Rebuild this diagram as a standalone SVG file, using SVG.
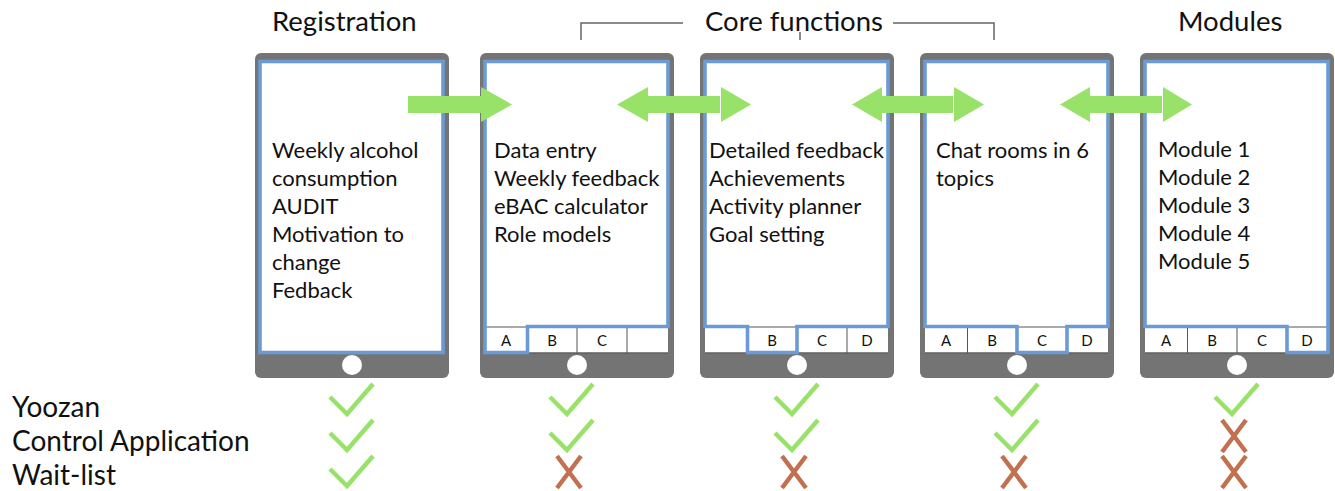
<svg xmlns="http://www.w3.org/2000/svg" width="1335" height="491" viewBox="0 0 1335 491">
<style>
.body{fill:#747474}
.screen{fill:#ffffff}
.frame{fill:none;stroke:#6b9bd6;stroke-width:3.6;stroke-linejoin:miter}
.tabline{fill:none;stroke:#555;stroke-width:1}
.btn{fill:#ffffff}
.t{font-family:Lato,"Liberation Sans",sans-serif;fill:#111}
.body-text{font-size:22px}
.head{font-size:27.5px}
.row{font-size:28px}
.tab{font-size:15px;text-anchor:middle}
.arrow{fill:#98e26a}
.check{fill:none;stroke:#98e26a;stroke-width:4.5;stroke-linecap:butt;stroke-linejoin:miter}
.cross{fill:none;stroke:#c17150;stroke-width:4.5}
.bracket{fill:none;stroke:#666;stroke-width:1.5}
</style>
<defs>
<g id="check"><path class="check" d="M-22,-3 L-5,14 L21,-16"/></g>
<g id="cross"><path class="cross" d="M-12,-16 L12,16 M12,-16 L-12,16"/></g>
</defs>

<!-- headers -->
<g id="headers">
<text class="t head" x="272" y="31">Registration</text>
<text class="t head" x="705" y="31">Core functions</text>
<text class="t head" x="1178" y="31">Modules</text>
<path class="bracket" d="M581,40 V23 H683 M893,23 H994 V40 M800,32 V40"/>
</g>

<!-- phone 1 -->
<g id="phone-registration">
<rect class="body" x="255" y="53" width="194" height="325" rx="6"/>
<rect class="screen" x="260" y="61.5" width="183" height="291"/>
<rect class="frame" x="260" y="61.5" width="183" height="291"/>
<circle class="btn" cx="352" cy="365" r="10"/>
<text class="t body-text" x="272" y="158">Weekly alcohol</text>
<text class="t body-text" x="272" y="186">consumption</text>
<text class="t body-text" x="272" y="214">AUDIT</text>
<text class="t body-text" x="272" y="242">Motivation to</text>
<text class="t body-text" x="272" y="270">change</text>
<text class="t body-text" x="272" y="298">Fedback</text>
</g>

<!-- phone 2 -->
<g id="phone-core1">
<rect class="body" x="480" y="53" width="194" height="325" rx="6"/>
<rect class="screen" x="485" y="61.5" width="183" height="291"/>
<path class="tabline" d="M485,327 H668 M485,353 H668 M527.5,327 V353 M577,327 V353 M627,327 V353"/>
<path class="frame" d="M485,61.5 H668 V326.5 H527.5 V352.5 H485 Z"/>
<circle class="btn" cx="577" cy="365" r="10"/>
<text class="t tab" x="506" y="346">A</text>
<text class="t tab" x="552" y="346">B</text>
<text class="t tab" x="602" y="346">C</text>
<text class="t body-text" x="494" y="158">Data entry</text>
<text class="t body-text" x="494" y="186">Weekly feedback</text>
<text class="t body-text" x="494" y="214">eBAC calculator</text>
<text class="t body-text" x="494" y="242">Role models</text>
</g>

<!-- phone 3 -->
<g id="phone-core2">
<rect class="body" x="700" y="53" width="194" height="325" rx="6"/>
<rect class="screen" x="705" y="61.5" width="183" height="291"/>
<path class="tabline" d="M705,327 H888 M705,353 H888 M747.5,327 V353 M797,327 V353 M847,327 V353"/>
<path class="frame" d="M705,61.5 H888 V326.5 H797 V352.5 H747.5 V326.5 H705 Z"/>
<circle class="btn" cx="797" cy="365" r="10"/>
<text class="t tab" x="772" y="346">B</text>
<text class="t tab" x="822" y="346">C</text>
<text class="t tab" x="867" y="346">D</text>
<text class="t body-text" x="709" y="158">Detailed feedback</text>
<text class="t body-text" x="709" y="186">Achievements</text>
<text class="t body-text" x="709" y="214">Activity planner</text>
<text class="t body-text" x="709" y="242">Goal setting</text>
</g>

<!-- phone 4 -->
<g id="phone-core3">
<rect class="body" x="920" y="53" width="194" height="325" rx="6"/>
<rect class="screen" x="925" y="61.5" width="183" height="291"/>
<path class="tabline" d="M925,327 H1108 M925,353 H1108 M967.5,327 V353 M1017,327 V353 M1067,327 V353"/>
<path class="frame" d="M925,61.5 H1108 V326.5 H1067 V352.5 H1017 V326.5 H925 Z"/>
<circle class="btn" cx="1017" cy="365" r="10"/>
<text class="t tab" x="946" y="346">A</text>
<text class="t tab" x="992" y="346">B</text>
<text class="t tab" x="1042" y="346">C</text>
<text class="t tab" x="1087" y="346">D</text>
<text class="t body-text" x="936" y="158">Chat rooms in 6</text>
<text class="t body-text" x="936" y="186">topics</text>
</g>

<!-- phone 5 -->
<g id="phone-modules">
<rect class="body" x="1140" y="53" width="194" height="325" rx="6"/>
<rect class="screen" x="1145" y="61.5" width="183" height="291"/>
<path class="tabline" d="M1145,327 H1328 M1145,353 H1328 M1187.5,327 V353 M1237,327 V353 M1287,327 V353"/>
<path class="frame" d="M1145,61.5 H1328 V352.5 H1287 V326.5 H1145 Z"/>
<circle class="btn" cx="1237" cy="365" r="10"/>
<text class="t tab" x="1166" y="346">A</text>
<text class="t tab" x="1212" y="346">B</text>
<text class="t tab" x="1262" y="346">C</text>
<text class="t tab" x="1307" y="346">D</text>
<text class="t body-text" x="1158" y="157">Module 1</text>
<text class="t body-text" x="1158" y="185">Module 2</text>
<text class="t body-text" x="1158" y="213">Module 3</text>
<text class="t body-text" x="1158" y="241">Module 4</text>
<text class="t body-text" x="1158" y="269">Module 5</text>
</g>

<!-- connectors -->
<g id="connectors">
<polygon class="arrow" points="408,96 481,96 481,87 512,104.5 481,122 481,113 408,113"/>
<polygon class="arrow" points="617,104.5 648,87 648,96 720,96 720,113 648,113 648,122"/>
<polygon class="arrow" points="721,87 751,104.5 721,122"/>
<polygon class="arrow" points="852,104.5 882,87 882,96 953,96 953,113 882,113 882,122"/>
<polygon class="arrow" points="954,87 984,104.5 954,122"/>
<polygon class="arrow" points="1060,104.5 1090,87 1090,96 1162,96 1162,113 1090,113 1090,122"/>
<polygon class="arrow" points="1163,87 1192,104.5 1163,122"/>
</g>

<!-- comparison rows -->
<g id="rows">
<text class="t row" x="12" y="417">Yoozan</text>
<text class="t row" x="12" y="451">Control Application</text>
<text class="t row" x="12" y="485">Wait-list</text>
<use href="#check" x="352" y="400"/>
<use href="#check" x="352" y="436"/>
<use href="#check" x="352" y="472"/>
<use href="#check" x="572" y="400"/>
<use href="#check" x="572" y="436"/>
<use href="#cross" x="569" y="472"/>
<use href="#check" x="797" y="400"/>
<use href="#check" x="797" y="436"/>
<use href="#cross" x="794" y="472"/>
<use href="#check" x="1017" y="400"/>
<use href="#check" x="1017" y="436"/>
<use href="#cross" x="1014" y="472"/>
<use href="#check" x="1237" y="400"/>
<use href="#cross" x="1234" y="436"/>
<use href="#cross" x="1234" y="472"/>
</g>
</svg>
